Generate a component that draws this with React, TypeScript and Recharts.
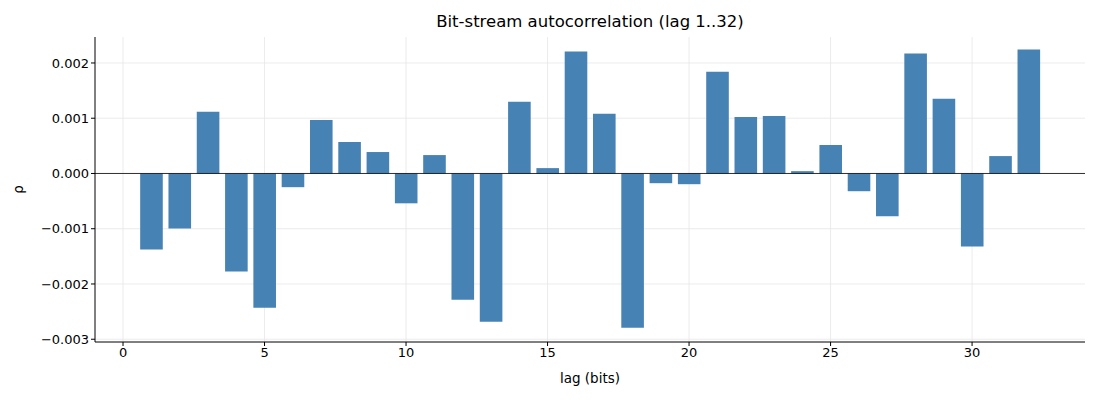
import React from "react";
import { BarChart, Bar, XAxis, YAxis, CartesianGrid, ReferenceLine, Label } from "recharts";

const lags = [1,2,3,4,5,6,7,8,9,10,11,12,13,14,15,16,17,18,19,20,21,22,23,24,25,26,27,28,29,30,31,32];
const rho = [
  -0.001376, -0.000994, 0.001115, -0.001776, -0.00243, -0.000248, 0.00097, 0.00057,
  0.000388, -0.00054, 0.000333, -0.002285, -0.002685, 0.001297, 0.000097, 0.002206,
  0.001079, -0.002794, -0.000176, -0.000194, 0.001842, 0.001024, 0.001042, 0.000042,
  0.000515, -0.000321, -0.000776, 0.00217, 0.001352, -0.001321, 0.000315, 0.002242,
];
const xTicks = [0, 5, 10, 15, 20, 25, 30];
const yTicks = [-0.003, -0.002, -0.001, 0, 0.001, 0.002];
const title = "Bit-stream autocorrelation (lag 1..32)";
const xLabel = "lag (bits)";
const yLabel = "ρ";

const data = lags.map((lag, i) => ({ lag, rho: rho[i] }));

const FONT = "DejaVu Sans, sans-serif";
const fmtY = (v: number) => {
  const s = Math.abs(v).toFixed(3);
  return v < -1e-9 ? "\u2212" + s : s;
};

export default function App() {
  return (
    <div style={{ position: "absolute", left: 0, top: 0, width: 1100, height: 400, background: "#fff", fontFamily: FONT }}>
      <div style={{ position: "absolute", left: 95, width: 990, top: 12, textAlign: "center", fontSize: 16.5, color: "#000", fontFamily: FONT }}>
        {title}
      </div>
      <BarChart width={1100} height={400} data={data} margin={{ top: 37, right: 15, bottom: 0, left: 0 }}>
        <CartesianGrid stroke="#e6e6e6" strokeWidth={0.8} verticalValues={xTicks} horizontalValues={yTicks} />
        <XAxis
          dataKey="lag"
          type="number"
          domain={[-0.99, 33.99]}
          ticks={xTicks}
          allowDataOverflow
          tick={{ fill: "#000", fontSize: 13, fontFamily: FONT }}
          tickLine={{ stroke: "#000" }}
          tickSize={4}
          axisLine={{ stroke: "#000" }}
          height={58}
        >
          <Label value={xLabel} position="insideBottom" offset={17} style={{ fill: "#000", fontSize: 13.5, fontFamily: FONT }} />
        </XAxis>
        <YAxis
          type="number"
          domain={[-0.00305, 0.00247]}
          ticks={yTicks}
          allowDataOverflow
          tickFormatter={fmtY}
          tick={{ fill: "#000", fontSize: 13, fontFamily: FONT }}
          tickLine={{ stroke: "#000" }}
          tickSize={4}
          axisLine={{ stroke: "#000" }}
          width={95}
        >
          <Label value={yLabel} angle={-90} position="insideLeft" offset={18} style={{ fill: "#000", fontSize: 13.5, fontFamily: FONT, textAnchor: "middle" }} />
        </YAxis>
        <Bar dataKey="rho" fill="#4682b4" barSize={22.6} isAnimationActive={false} />
        <ReferenceLine y={0} stroke="#000" strokeWidth={0.8} />
      </BarChart>
    </div>
  );
}
